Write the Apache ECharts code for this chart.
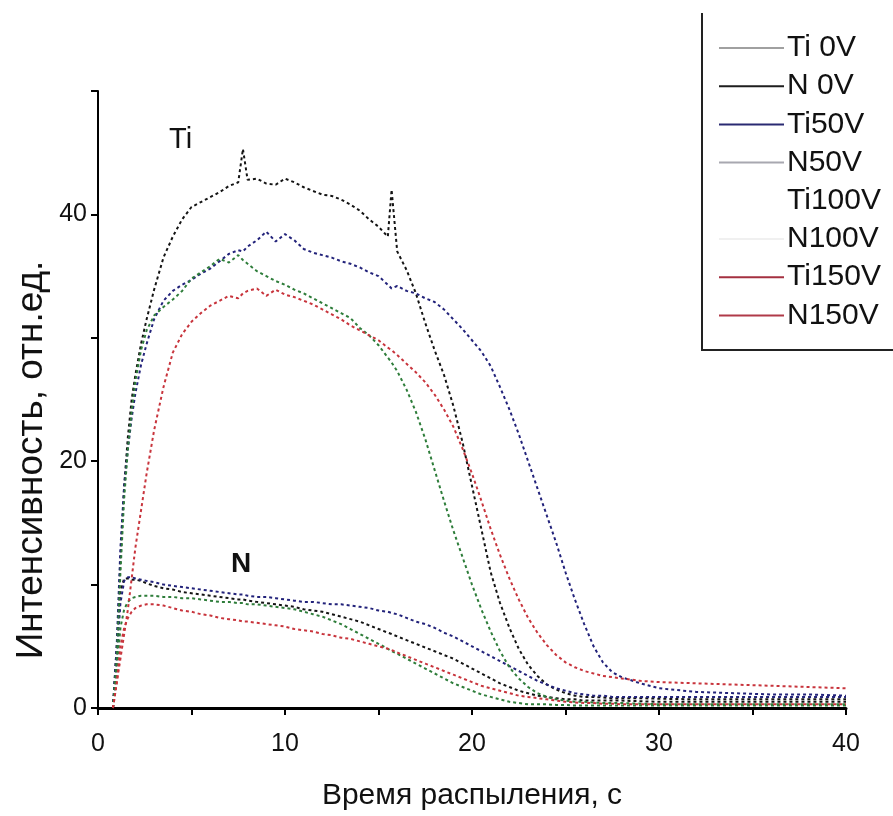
<!DOCTYPE html>
<html>
<head>
<meta charset="utf-8">
<script src="https://cdn.jsdelivr.net/npm/echarts@6/dist/echarts.min.js"></script>
<style>
  html, body { margin: 0; padding: 0; background: #fff; }
  #chart { width: 893px; height: 816px; }
</style>
</head>
<body>
<div id="chart"></div>
<script>
// Sputtering time grid, s (shared by every profile)
const time = [0.8, 1.0, 1.2, 1.4, 1.6, 1.8, 2.0, 2.3, 2.6, 3.0,
  3.5, 4.0, 4.5, 5.0, 5.5, 6.0, 6.5, 7.0, 7.5, 7.75,
  8.0, 8.5, 9.0, 9.5, 10.0, 10.5, 11.0, 11.5, 12.0, 12.5,
  13.0, 13.5, 14.0, 14.5, 15.0, 15.5, 15.7, 16.0, 16.5, 17.0,
  17.5, 18.0, 18.5, 19.0, 19.5, 20.0, 20.5, 21.0, 21.5, 22.0,
  22.5, 23.0, 23.5, 24.0, 24.5, 25.0, 25.5, 26.0, 26.5, 27.0,
  27.5, 28.0, 29.0, 30.0, 32.0, 34.0, 36.0, 38.0, 40.0];

// Ti emission intensity, arb. units
const ti0V = [0, 4, 12, 18, 22, 25, 27, 29.5, 31.5, 33.9,
  36.5, 38.2, 39.6, 40.6, 41.0, 41.4, 41.8, 42.3, 42.6, 45.3,
  42.8, 42.9, 42.5, 42.4, 42.9, 42.6, 42.2, 41.9, 41.6, 41.5,
  41.2, 40.8, 40.3, 39.6, 39.0, 38.2, 42.0, 37.0, 35.5, 33.6,
  31.2, 29.0, 27.0, 24.5, 21.5, 18.0, 14.5, 11.0, 8.5, 6.5,
  4.8, 3.5, 2.6, 1.9, 1.5, 1.2, 1.0, 0.9, 0.9, 0.85,
  0.8, 0.8, 0.8, 0.75, 0.7, 0.7, 0.7, 0.7, 0.7];
const ti50V = [0, 5, 13, 18, 21, 23.5, 25.5, 27.8, 29.5, 31.5,
  33.0, 33.8, 34.3, 34.7, 35.2, 35.6, 36.2, 36.8, 37.1, 37.0,
  37.4, 37.9, 38.6, 37.8, 38.4, 37.9, 37.2, 36.9, 36.7, 36.5,
  36.2, 36.0, 35.7, 35.3, 35.0, 34.3, 34.0, 34.2, 33.8, 33.6,
  33.2, 32.9, 32.3, 31.5, 30.7, 29.8, 28.9, 27.7, 26.0, 24.2,
  22.2, 20.0, 17.8, 15.6, 13.4, 11.0, 8.8, 6.8, 5.0, 3.7,
  2.9, 2.5, 2.0, 1.6, 1.3, 1.2, 1.1, 1.1, 1.0];
const ti100V = [0, 4, 11, 17, 21, 24, 26.5, 29, 30.6, 31.8,
  32.5, 33.1, 33.8, 34.8, 35.3, 35.8, 36.4, 36.1, 36.7, 36.3,
  36.0, 35.4, 35.0, 34.6, 34.3, 33.9, 33.6, 33.2, 32.8, 32.4,
  32.0, 31.6, 30.8, 30.2, 29.4, 28.4, 28.0, 27.3, 25.8, 24.0,
  21.8, 19.3, 16.8, 14.4, 12.2, 10.0, 8.0, 6.2, 4.6, 3.3,
  2.4, 1.7, 1.2, 0.9, 0.7, 0.6, 0.5, 0.5, 0.45, 0.4,
  0.4, 0.4, 0.35, 0.3, 0.3, 0.3, 0.3, 0.3, 0.3];
const ti150V = [0, 2, 4, 6, 8, 10.5, 13, 16, 19, 22.5,
  26, 28.8, 30.3, 31.3, 32.0, 32.6, 33.0, 33.4, 33.2, 33.6,
  33.8, 34.0, 33.4, 33.9, 33.5, 33.3, 33.0, 32.7, 32.3, 31.9,
  31.5, 31.0, 30.6, 30.2, 29.8, 29.2, 29.0, 28.6, 27.9, 27.2,
  26.4, 25.4, 24.2, 22.8, 21.0, 19.0, 16.8, 14.5, 12.4, 10.5,
  8.8, 7.3, 6.1, 5.1, 4.3, 3.7, 3.3, 3.0, 2.8, 2.6,
  2.5, 2.4, 2.2, 2.1, 2.0, 1.9, 1.8, 1.7, 1.6];

// N emission intensity, arb. units
const n0V = [0, 5, 9.5, 10.5, 10.5, 10.4, 10.4, 10.3, 10.1, 9.9,
  9.7, 9.6, 9.4, 9.3, 9.2, 9.1, 9.0, 8.9, 8.8, 8.8,
  8.7, 8.6, 8.5, 8.4, 8.3, 8.2, 8.0, 7.9, 7.8, 7.6,
  7.4, 7.2, 7.0, 6.7, 6.4, 6.1, 6.0, 5.8, 5.5, 5.2,
  4.9, 4.6, 4.3, 4.0, 3.6, 3.2, 2.8, 2.4, 2.0, 1.7,
  1.4, 1.2, 1.0, 0.9, 0.8, 0.7, 0.7, 0.6, 0.6, 0.6,
  0.6, 0.6, 0.55, 0.5, 0.5, 0.5, 0.5, 0.5, 0.5];
const n50V = [0, 4, 8.5, 10.3, 10.6, 10.6, 10.5, 10.4, 10.3, 10.2,
  10.0, 9.9, 9.8, 9.7, 9.6, 9.5, 9.4, 9.3, 9.2, 9.2,
  9.1, 9.0, 9.0, 8.9, 8.8, 8.7, 8.6, 8.6, 8.5, 8.4,
  8.4, 8.3, 8.2, 8.1, 7.9, 7.8, 7.7, 7.6, 7.3, 7.0,
  6.8, 6.5, 6.1, 5.8, 5.4, 5.0, 4.6, 4.2, 3.8, 3.4,
  3.0, 2.6, 2.2, 1.9, 1.6, 1.4, 1.2, 1.1, 1.0, 1.0,
  0.9, 0.9, 0.9, 0.9, 0.9, 0.9, 0.9, 0.9, 0.9];
const n100V = [0, 3, 6.5, 8.0, 8.6, 8.9, 9.0, 9.1, 9.1, 9.1,
  9.0, 9.0, 8.9, 8.9, 8.8, 8.7, 8.6, 8.6, 8.5, 8.5,
  8.4, 8.4, 8.3, 8.2, 8.1, 8.0, 7.8, 7.6, 7.4, 7.1,
  6.8, 6.4, 6.0, 5.6, 5.2, 4.8, 4.6, 4.4, 4.0, 3.6,
  3.2, 2.8, 2.4, 2.0, 1.7, 1.4, 1.1, 0.9, 0.7, 0.5,
  0.4, 0.3, 0.3, 0.3, 0.25, 0.25, 0.2, 0.2, 0.2, 0.2,
  0.2, 0.2, 0.2, 0.2, 0.2, 0.2, 0.2, 0.2, 0.2];
const n150V = [0, 2, 5, 6.5, 7.3, 7.8, 8.1, 8.3, 8.4, 8.4,
  8.3, 8.1, 7.9, 7.8, 7.6, 7.5, 7.3, 7.2, 7.1, 7.0,
  7.0, 6.9, 6.8, 6.7, 6.6, 6.4, 6.3, 6.2, 6.0, 5.9,
  5.7, 5.6, 5.4, 5.2, 5.0, 4.8, 4.7, 4.5, 4.2, 3.9,
  3.6, 3.3, 3.0, 2.7, 2.4, 2.1, 1.8, 1.6, 1.4, 1.2,
  1.0, 0.9, 0.8, 0.7, 0.6, 0.5, 0.45, 0.4, 0.4, 0.35,
  0.35, 0.3, 0.3, 0.3, 0.3, 0.3, 0.3, 0.3, 0.3];

const seriesNames = ['Ti 0V', 'N 0V', 'Ti50V', 'N50V', 'Ti100V', 'N100V', 'Ti150V', 'N150V'];
const seriesValues = [ti0V, n0V, ti50V, n50V, ti100V, n100V, ti150V, n150V];
const curveColors = ['#141414', '#141414', '#22227a', '#22227a', '#2e7d3a', '#2e7d3a', '#c8343c', '#c8343c'];
// legend swatches are drawn lighter/darker than the curves
const swatchColors = ['#a0a0a0', '#1e1e1e', '#2a2a72', '#a8a8b0', '#ffffff', '#f0f0f0', '#a43040', '#b03a48'];

const xTicks = { min: 0, max: 40, step: 5, labelEvery: 10 };
const yTicks = { min: 0, max: 50, step: 10, labelEvery: 20 };

const font = 'Liberation Sans, Arial, Helvetica, sans-serif';
const chart = echarts.init(document.getElementById('chart'), null, { renderer: 'canvas' });

const series = seriesNames.map((name, k) => ({
  name,
  type: 'line',
  symbol: 'none',
  smooth: false,
  data: time.map((t, i) => [t, seriesValues[k][i]]),
  lineStyle: { color: curveColors[k], width: 2, type: [3, 3] },
  itemStyle: { color: curveColors[k] },
  z: 3
}));

chart.setOption({
  animation: false,
  backgroundColor: '#ffffff',
  grid: { left: 98, right: 47, top: 91, bottom: 106, containLabel: false },
  legend: {
    orient: 'vertical',
    left: 718,
    top: 33,
    padding: 0,
    itemWidth: 65,
    itemHeight: 28,
    itemGap: 8.2,
    selectedMode: false,
    textStyle: { fontFamily: font, fontSize: 30, color: '#111', padding: [0, 0, 0, -2] },
    data: seriesNames.map((name, k) => ({
      name,
      lineStyle: { color: swatchColors[k], width: 2, type: 'solid' },
      itemStyle: { color: 'rgba(0,0,0,0)', borderWidth: 0, opacity: 0 }
    }))
  },
  xAxis: {
    type: 'value',
    min: xTicks.min,
    max: xTicks.max,
    interval: xTicks.step,
    name: 'Время распыления, с',
    nameLocation: 'middle',
    nameGap: 73,
    nameTextStyle: { fontFamily: font, fontSize: 30, color: '#111' },
    axisLine: { lineStyle: { color: '#000', width: 3 } },
    axisTick: { inside: false, length: 7, lineStyle: { color: '#000', width: 2 } },
    axisLabel: {
      fontFamily: font, fontSize: 25, color: '#111', margin: 24,
      formatter: v => (v % xTicks.labelEvery === 0 ? String(v) : '')
    },
    splitLine: { show: false }
  },
  yAxis: {
    type: 'value',
    min: yTicks.min,
    max: yTicks.max,
    interval: yTicks.step,
    axisLine: { show: true, lineStyle: { color: '#000', width: 2 } },
    axisTick: { show: true, inside: false, length: 7, lineStyle: { color: '#000', width: 2 } },
    axisLabel: {
      fontFamily: font, fontSize: 25, color: '#111', margin: 11,
      formatter: v => (v % yTicks.labelEvery === 0 ? String(v) : '')
    },
    splitLine: { show: false }
  },
  graphic: [
    {
      type: 'text', x: 32, y: 460, rotation: Math.PI / 2,
      style: { text: 'Интенсивность, отн.ед.', font: '37px ' + font, fill: '#111',
        textAlign: 'center', textVerticalAlign: 'middle' }
    },
    { type: 'text', x: 169, y: 125,
      style: { text: 'Ti', font: '29px ' + font, fill: '#111' } },
    { type: 'text', x: 231, y: 550,
      style: { text: 'N', font: 'bold 28px ' + font, fill: '#111' } },
    { type: 'line', shape: { x1: 702, y1: 13, x2: 702, y2: 350 },
      style: { stroke: '#222', lineWidth: 2 } },
    { type: 'line', shape: { x1: 701, y1: 350, x2: 893, y2: 350 },
      style: { stroke: '#222', lineWidth: 2 } }
  ],
  series
});
</script>
</body>
</html>
